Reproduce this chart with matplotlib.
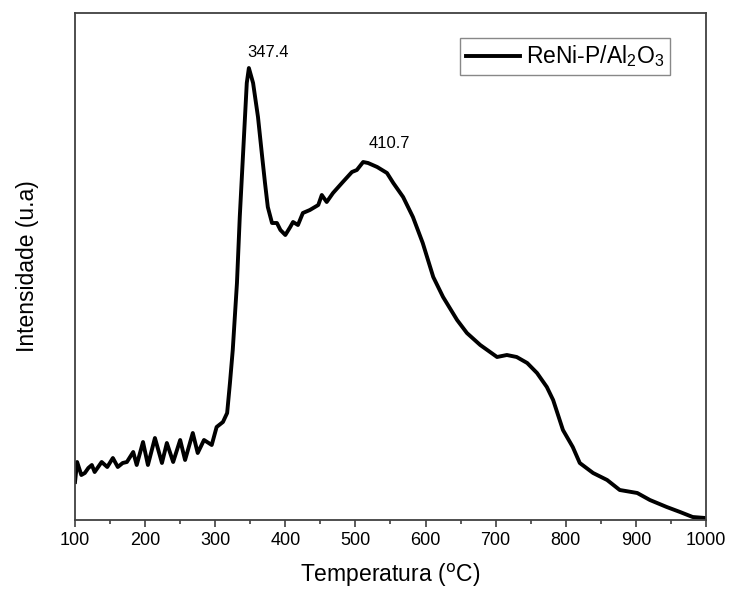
import matplotlib.pyplot as plt

plt.rcParams['font.family'] = ['Liberation Sans', 'DejaVu Sans']
plt.rcParams['mathtext.default'] = 'regular'

# temperatura (C) e intensidade (u.a.)
temperatura = [100, 103, 109, 114, 119, 124, 128, 133, 138, 146, 154, 161, 168, 174,
               183, 188, 197, 204, 214, 224, 231, 240, 250, 257, 268, 275, 284, 295,
               302, 311, 317, 321, 325, 331, 335, 340, 345, 348, 354, 361, 367, 371,
               375, 381, 388, 393, 400, 407, 411, 418, 425, 435, 447, 452, 459, 468,
               482, 495, 502, 511, 518, 531, 545, 554, 568, 582, 596, 611, 625, 645,
               659, 678, 702, 716, 730, 745, 759, 773, 782, 796, 810, 820, 839, 859,
               877, 902, 920, 944, 963, 981, 999]
intensidade = [38, 58, 45, 47, 52, 55, 48, 53, 58, 53, 62, 53, 57, 58,
               68, 55, 78, 55, 82, 57, 77, 58, 80, 60, 87, 67, 80, 75,
               93, 98, 107, 137, 170, 237, 303, 370, 437, 452, 437, 403, 363, 337,
               313, 297, 297, 290, 285, 293, 298, 295, 307, 310, 315, 325, 318, 327,
               338, 348, 350, 358, 357, 353, 347, 337, 323, 303, 277, 243, 223, 200,
               187, 175, 163, 165, 163, 157, 147, 133, 120, 90, 73, 57, 47, 40,
               30, 27, 20, 13, 8, 3, 2]

picos = ['347.4', '410.7']
pico_pos = [(348, 452), (518, 357)]
pico_offset = [(14, 6), (15, 9)]

fig = plt.figure(figsize=(7.29, 6.05), dpi=100)
ax = fig.add_axes([0.1029, 0.1405, 0.8655, 0.838])

ax.plot(temperatura, intensidade, color='black', lw=2.8, solid_joinstyle='round',
        label='ReNi-P/Al$_2$O$_3$')

for txt, (t, i), off in zip(picos, pico_pos, pico_offset):
    ax.annotate(txt, (t, i), xytext=off, textcoords='offset points',
                ha='center', va='bottom', fontsize=12)

ax.set_xlim(100, 1000)
ax.set_ylim(0, 507)
ax.set_xticks(range(100, 1001, 100))
ax.set_xticks(range(150, 1000, 100), minor=True)
ax.set_yticks([])
ax.tick_params(axis='x', which='major', direction='out', length=5, width=1.2,
               labelsize=13, color='#404040')
ax.tick_params(axis='x', which='minor', direction='out', length=3, width=1.2, color='#404040')
for s in ax.spines.values():
    s.set_color('#404040')
    s.set_linewidth(1.3)

ax.set_xlabel('Temperatura ($^\\mathrm{o}$C)', fontsize=16.5, labelpad=9)
ax.set_ylabel('Intensidade (u.a)', fontsize=16.5, labelpad=26)

leg = ax.legend(loc='upper right', bbox_to_anchor=(0.943, 0.951), borderaxespad=0,
                fontsize=16.5, fancybox=False, framealpha=1, handlelength=2.35,
                handletextpad=0.26, borderpad=0.25)
leg.get_frame().set_edgecolor('#888888')
leg.get_frame().set_linewidth(1.0)

fig.savefig('out.png', dpi=100)
